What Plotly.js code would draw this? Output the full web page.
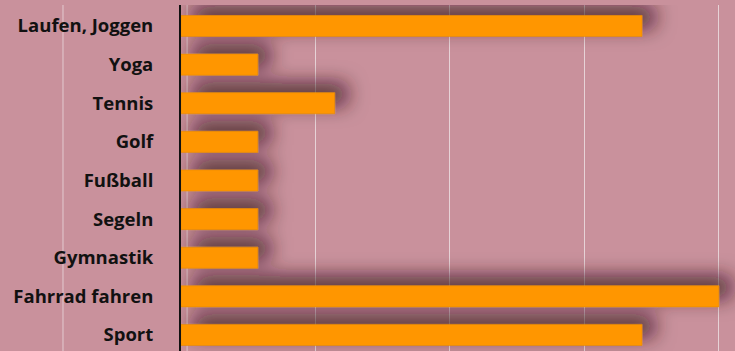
<!DOCTYPE html>
<html>
<head>
<meta charset="utf-8">
<script src="https://cdn.plot.ly/plotly-3.0.1.min.js"></script>
<style>
html,body{margin:0;padding:0;background:#c9919c;}
#chart{width:735px;height:351px;}
</style>
</head>
<body>
<div id="chart"></div>
<script>
const categories = ["Laufen, Joggen","Yoga","Tennis","Golf","Fußball","Segeln","Gymnastik","Fahrrad fahren","Sport"];
const values = [6, 1, 2, 1, 1, 1, 1, 7, 6];

const trace = {
  type: 'bar',
  orientation: 'h',
  y: categories,
  x: values,
  marker: {color: '#ff9600', line: {color: '#e68a00', width: 0.6}},
  hoverinfo: 'none'
};

const layout = {
  width: 735, height: 351,
  margin: {l: 181, r: 0, t: 5, b: 0},
  paper_bgcolor: '#c9919c',
  plot_bgcolor: '#c9919c',
  bargap: 0.455,
  showlegend: false,
  xaxis: {
    range: [0, 7.21],
    tick0: 0, dtick: 1.75,
    showticklabels: false,
    ticks: '',
    showgrid: true,
    gridcolor: 'rgba(236,222,226,0.85)',
    gridwidth: 1,
    zeroline: false,
    showline: false,
    fixedrange: true
  },
  yaxis: {
    type: 'category',
    categoryorder: 'array',
    categoryarray: categories,
    range: [8.415, -0.544],
    showline: true,
    linecolor: '#111',
    linewidth: 2,
    ticks: '',
    showgrid: false,
    ticklabelstandoff: 22,
    tickfont: {family: 'Open Sans, sans-serif', size: 18.5, color: '#111', weight: 700},
    fixedrange: true
  },
  shapes: [
    {type: 'line', xref: 'paper', yref: 'paper', x0: -0.213, x1: -0.213, y0: 0, y1: 1,
     line: {color: 'rgba(236,222,226,0.75)', width: 1}, layer: 'below'},
    {type: 'line', xref: 'paper', yref: 'paper', x0: 0.011, x1: 0.011, y0: 0, y1: 1,
     line: {color: 'rgba(236,222,226,0.75)', width: 1}, layer: 'below'}
  ]
};

Plotly.newPlot('chart', [trace], layout, {displayModeBar: false, staticPlot: true}).then(function(gd){
  const svg = gd.querySelector('svg.main-svg');
  const ns = 'http://www.w3.org/2000/svg';
  let defs = svg.querySelector('defs');
  if (!defs) { defs = document.createElementNS(ns, 'defs'); svg.insertBefore(defs, svg.firstChild); }
  const f = document.createElementNS(ns, 'filter');
  f.setAttribute('id', 'barshadow');
  f.setAttribute('x', '-0.1'); f.setAttribute('y', '-0.25');
  f.setAttribute('width', '1.3'); f.setAttribute('height', '1.5');
  const ds = document.createElementNS(ns, 'feDropShadow');
  ds.setAttribute('dx', '12'); ds.setAttribute('dy', '-9');
  ds.setAttribute('stdDeviation', '10');
  ds.setAttribute('flood-color', 'rgb(45,15,25)');
  ds.setAttribute('flood-opacity', '0.8');
  f.appendChild(ds);
  defs.appendChild(f);
  gd.querySelectorAll('g.trace.bars').forEach(function(g){ g.setAttribute('filter', 'url(#barshadow)'); });
});
</script>
</body>
</html>
